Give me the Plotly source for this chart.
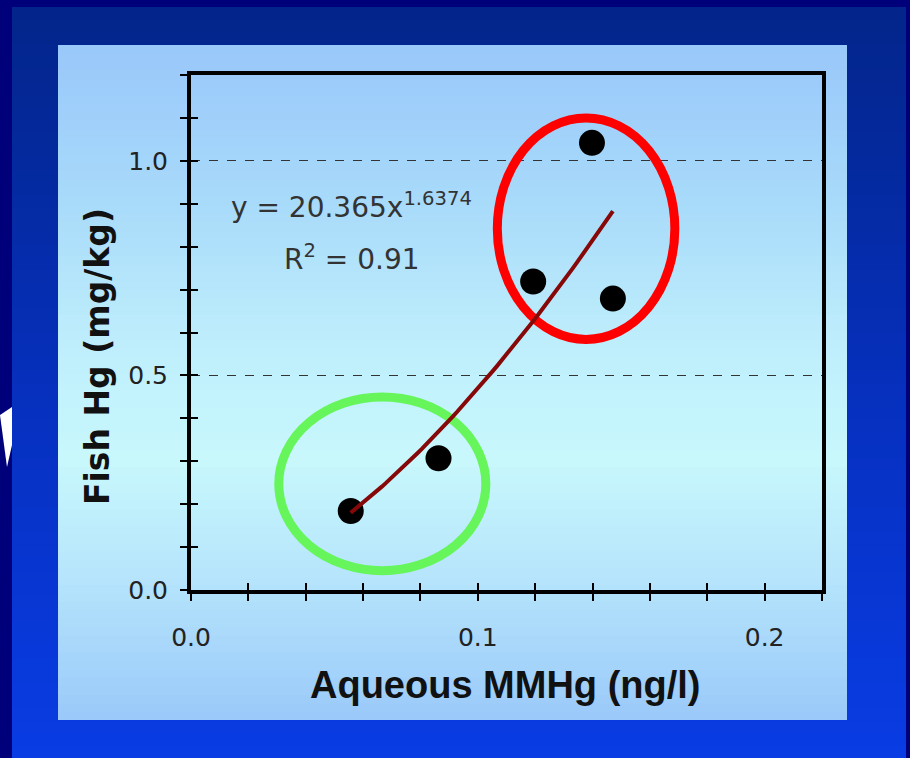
import numpy as np
import plotly.graph_objects as go

# ---------------- data ----------------
aqueous_mmhg = [0.0557, 0.0863, 0.1193, 0.1398, 0.1471]   # ng/l
fish_hg = [0.184, 0.307, 0.719, 1.042, 0.679]            # mg/kg
fit_a = 20.365
fit_b = 1.6374
fit_r2 = 0.91
x_tick_vals = [0.0, 0.1, 0.2]
x_tick_text = ["0.0", "0.1", "0.2"]
y_tick_vals = [0.0, 0.5, 1.0]
y_tick_text = ["0.0", "0.5", "1.0"]
x_range = [0, 0.22001]
y_range = [0, 1.2001]
# highlight ellipses (data-space bounding boxes)
green_group = dict(x0=0.0306, x1=0.1028, y0=0.045, y1=0.450)
red_group = dict(x0=0.1068, x1=0.1687, y0=0.584, y1=1.100)

# ---------------- geometry helpers ----------------
W, H = 910, 758
L, R, T, B = 191, 822, 75, 590


def px_x(p):
    return (p - L) / (R - L)


def px_y(p):
    return (B - p) / (B - T)


def lerp_color(stops, py):
    for (y0, c0), (y1, c1) in zip(stops[:-1], stops[1:]):
        if y0 <= py <= y1:
            t = (py - y0) / (y1 - y0) if y1 > y0 else 0
            c = [round(a + (b - a) * t) for a, b in zip(c0, c1)]
            return "rgb(%d,%d,%d)" % tuple(c)
    c = stops[-1][1] if py > stops[-1][0] else stops[0][1]
    return "rgb(%d,%d,%d)" % tuple(c)


shapes = []


def band_gradient(x0, x1, y0, y1, stops, n):
    h = (y1 - y0) / n
    for i in range(n):
        ya = y0 + i * h
        yb = ya + h + 0.8
        shapes.append(dict(type="rect", xref="paper", yref="paper",
                           x0=px_x(x0), x1=px_x(x1), y0=px_y(min(yb, y1)), y1=px_y(ya),
                           fillcolor=lerp_color(stops, ya + h / 2), line=dict(width=0),
                           layer="below"))


# outer slide background (blue gradient)
outer_stops = [(7, (3, 37, 138)), (400, (6, 48, 190)), (758, (9, 60, 228))]
band_gradient(12, 906, 7, 758, outer_stops, 60)
# light panel gradient
panel_stops = [(45, (153, 200, 250)), (200, (168, 218, 250)), (340, (190, 238, 252)),
               (460, (200, 248, 252)), (570, (183, 230, 252)), (720, (154, 201, 250))]
band_gradient(58, 847, 45, 720, panel_stops, 80)

# white arrow sliver at the far left
tri = [(0, 415), (12, 407), (12, 445), (7, 467)]
path = "M " + " L ".join("%f,%f" % (px_x(a), px_y(b)) for a, b in tri) + " Z"
shapes.append(dict(type="path", xref="paper", yref="paper", path=path,
                   fillcolor="white", line=dict(width=0), layer="below"))

# ellipses
shapes.append(dict(type="circle", xref="x", yref="y", **green_group,
                   line=dict(color="#66f55a", width=9), layer="between"))
shapes.append(dict(type="circle", xref="x", yref="y", **red_group,
                   line=dict(color="#ff0000", width=9), layer="between"))

# ---------------- traces ----------------
fig = go.Figure()
fig.add_trace(go.Scatter(x=aqueous_mmhg, y=fish_hg, mode="markers",
                         marker=dict(size=26, color="black"), showlegend=False,
                         hoverinfo="x+y"))

fit_x = np.linspace(min(aqueous_mmhg), max(aqueous_mmhg), 60)
fit_y = fit_a * fit_x ** fit_b
fig.add_trace(go.Scatter(x=fit_x, y=fit_y, mode="lines", xaxis="x2", yaxis="y2",
                         line=dict(color="#860808", width=4), showlegend=False,
                         hoverinfo="skip"))

tick_font = dict(family="DejaVu Sans", size=25, color="#222222")
xtitle_font = dict(family="Liberation Sans, Arial", size=38, color="#111111", weight="bold")
ytitle_font = dict(family="DejaVu Sans", size=33, color="#111111", weight="bold")
text_font = dict(family="DejaVu Sans", size=28, color="#333333")

fig.update_layout(
    width=W, height=H, autosize=False,
    margin=dict(l=L, r=W - R, t=T, b=H - B, pad=0),
    paper_bgcolor="#00007a",
    plot_bgcolor="rgba(0,0,0,0)",
    shapes=shapes,
    xaxis=dict(range=x_range, tickmode="array", tickvals=x_tick_vals, ticktext=x_tick_text,
               ticks="outside", ticklen=7, tickwidth=1.5, tickcolor="black",
               minor=dict(tick0=0, dtick=0.02, ticks="outside", ticklen=7, tickwidth=1.5,
                          tickcolor="black", showgrid=False),
               showline=True, linewidth=4, linecolor="black", mirror=True,
               showgrid=False, zeroline=False, tickfont=tick_font, ticklabelstandoff=15),
    yaxis=dict(range=y_range, tickmode="array", tickvals=y_tick_vals, ticktext=y_tick_text,
               ticks="outside", ticklen=7, tickwidth=1.5, tickcolor="black",
               minor=dict(tick0=0, dtick=0.1, ticks="outside", ticklen=7, tickwidth=1.5,
                          tickcolor="black", showgrid=False),
               showline=True, linewidth=4, linecolor="black", mirror=True,
               showgrid=True, gridcolor="#333333", gridwidth=1, griddash="dash",
               zeroline=False, tickfont=tick_font, ticklabelstandoff=7),
    xaxis2=dict(range=x_range, overlaying="x", anchor="y", side="bottom",
                tickmode="linear", tick0=0, dtick=0.02, ticks="inside", ticklen=7,
                tickwidth=1.5, tickcolor="black", showticklabels=False,
                showline=False, showgrid=False, zeroline=False),
    yaxis2=dict(range=y_range, overlaying="y", anchor="x", side="left",
                tickmode="linear", tick0=0, dtick=0.1, ticks="inside", ticklen=7,
                tickwidth=1.5, tickcolor="black", showticklabels=False,
                showline=False, showgrid=False, zeroline=False),
    annotations=[
        dict(xref="paper", yref="paper", x=px_x(351), y=px_y(205), showarrow=False,
             text="y = %.3fx<sup>%.4f</sup>" % (fit_a, fit_b), font=text_font,
             xanchor="center", yanchor="middle"),
        dict(xref="paper", yref="paper", x=px_x(352), y=px_y(257), showarrow=False,
             text="R<sup>2</sup> = %.2f" % fit_r2, font=text_font,
             xanchor="center", yanchor="middle"),
        dict(xref="paper", yref="paper", x=px_x(505), y=px_y(685), showarrow=False,
             text="Aqueous MMHg (ng/l)", font=xtitle_font,
             xanchor="center", yanchor="middle"),
        dict(xref="paper", yref="paper", x=px_x(97), y=px_y(356), showarrow=False,
             text="Fish Hg (mg/kg)", font=ytitle_font, textangle=-90,
             xanchor="center", yanchor="middle"),
    ],
)

fig.write_html(
    "out.html",
    config={"displayModeBar": False},
    post_script="document.body.style.margin='0px';document.body.style.overflow='hidden';",
)
